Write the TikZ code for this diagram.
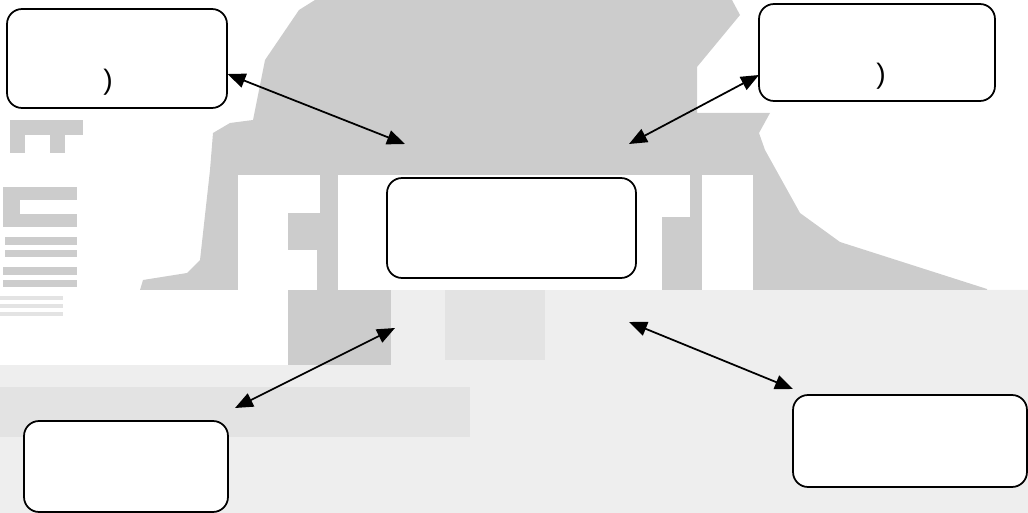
\documentclass[tikz,border=0pt]{standalone}
\usepackage{fontspec}
\setmainfont{Liberation Sans}
\usetikzlibrary{arrows.meta}
\definecolor{bggrey}{HTML}{CCCCCC}
\definecolor{bglight}{HTML}{E3E3E3}
\definecolor{bgpale}{HTML}{EEEEEE}
\tikzset{
  box/.style={draw=black, line width=1pt, rounded corners=0.3cm, fill=white, inner sep=0pt, outer sep=0pt},
  link/.style={line width=1pt, {Triangle[length=0.36cm,width=0.29cm]}-{Triangle[length=0.36cm,width=0.29cm]}},
  paren/.style={font=\fontsize{16pt}{18pt}\selectfont, inner sep=0pt},
  bgfill/.style={fill=bggrey, draw=none},
  lightfill/.style={fill=bglight, draw=none},
  palefill/.style={fill=bgpale, draw=none},
  cutout/.style={fill=white, draw=none}
}
\begin{document}
\begin{tikzpicture}[x=0.02cm, y=-0.02cm]
\useasboundingbox (0,0) rectangle (1028,513);
% ---- background watermark (approximation) ----
\path[palefill] (0,365) -- (288,365) -- (288,290) -- (1028,290) -- (1028,513) -- (0,513) -- cycle;
\path[lightfill] (0,387) rectangle (470,437);
\path[bgfill] (288,290) rectangle (391,365);
\path[lightfill] (445,290) rectangle (545,360);
\path[bgfill] (315,0) -- (732,0) -- (740,15) -- (697,67) -- (697,113) -- (770,113)
  -- (759,133) -- (765,150) -- (800,213) -- (840,242) -- (987,289) -- (987,290)
  -- (140,290) -- (143,280) -- (187,273) -- (200,260) -- (210,170) -- (213,133)
  -- (230,123) -- (253,120) -- (257,100) -- (265,60) -- (299,10) -- cycle;
\path[cutout] (238,175) rectangle (288,290);
\path[cutout] (288,175) rectangle (320,213);
\path[cutout] (288,250) rectangle (317,290);
\path[cutout] (338,175) rectangle (662,290);
\path[cutout] (662,175) rectangle (690,217);
\path[cutout] (702,175) rectangle (753,290);
% left vertical lettering blocks
\path[bgfill] (10,120) rectangle (83,135);
\path[bgfill] (10,135) rectangle (25,153);
\path[bgfill] (50,135) rectangle (65,153);
\path[bgfill] (3,187) rectangle (77,200);
\path[bgfill] (3,200) rectangle (20,227);
\path[bgfill] (3,214) rectangle (77,227);
\path[bgfill] (5,237) rectangle (77,245);
\path[bgfill] (5,250) rectangle (77,257);
\path[bgfill] (3,267) rectangle (77,275);
\path[bgfill] (3,280) rectangle (77,287);
\path[lightfill] (0,296) rectangle (63,300);
\path[lightfill] (0,304) rectangle (63,308);
\path[lightfill] (0,312) rectangle (63,316);
% ---- diagram ----
\node[box, minimum width=4.4cm, minimum height=1.98cm] (a) at (117,58.5) {};
\node[box, minimum width=4.72cm, minimum height=1.94cm] (b) at (877,52.5) {};
\node[box, minimum width=4.98cm, minimum height=2.0cm] (c) at (511.5,228) {};
\node[box, minimum width=4.08cm, minimum height=1.82cm] (d) at (126,466.5) {};
\node[box, minimum width=4.68cm, minimum height=1.84cm] (e) at (910,441) {};
\node[paren] (pa) at (108,82) {)};
\node[paren] (pb) at (881,76) {)};
\coordinate (a1) at (227.5,74);
\coordinate (c1) at (405,144);
\coordinate (c2) at (629,144);
\coordinate (b1) at (759,75);
\coordinate (c3) at (395,328);
\coordinate (d1) at (235,408);
\coordinate (c4) at (629,322);
\coordinate (e1) at (793,389);
\draw[link] (a1) -- (c1);
\draw[link] (c2) -- (b1);
\draw[link] (c3) -- (d1);
\draw[link] (c4) -- (e1);
\end{tikzpicture}
\end{document}
